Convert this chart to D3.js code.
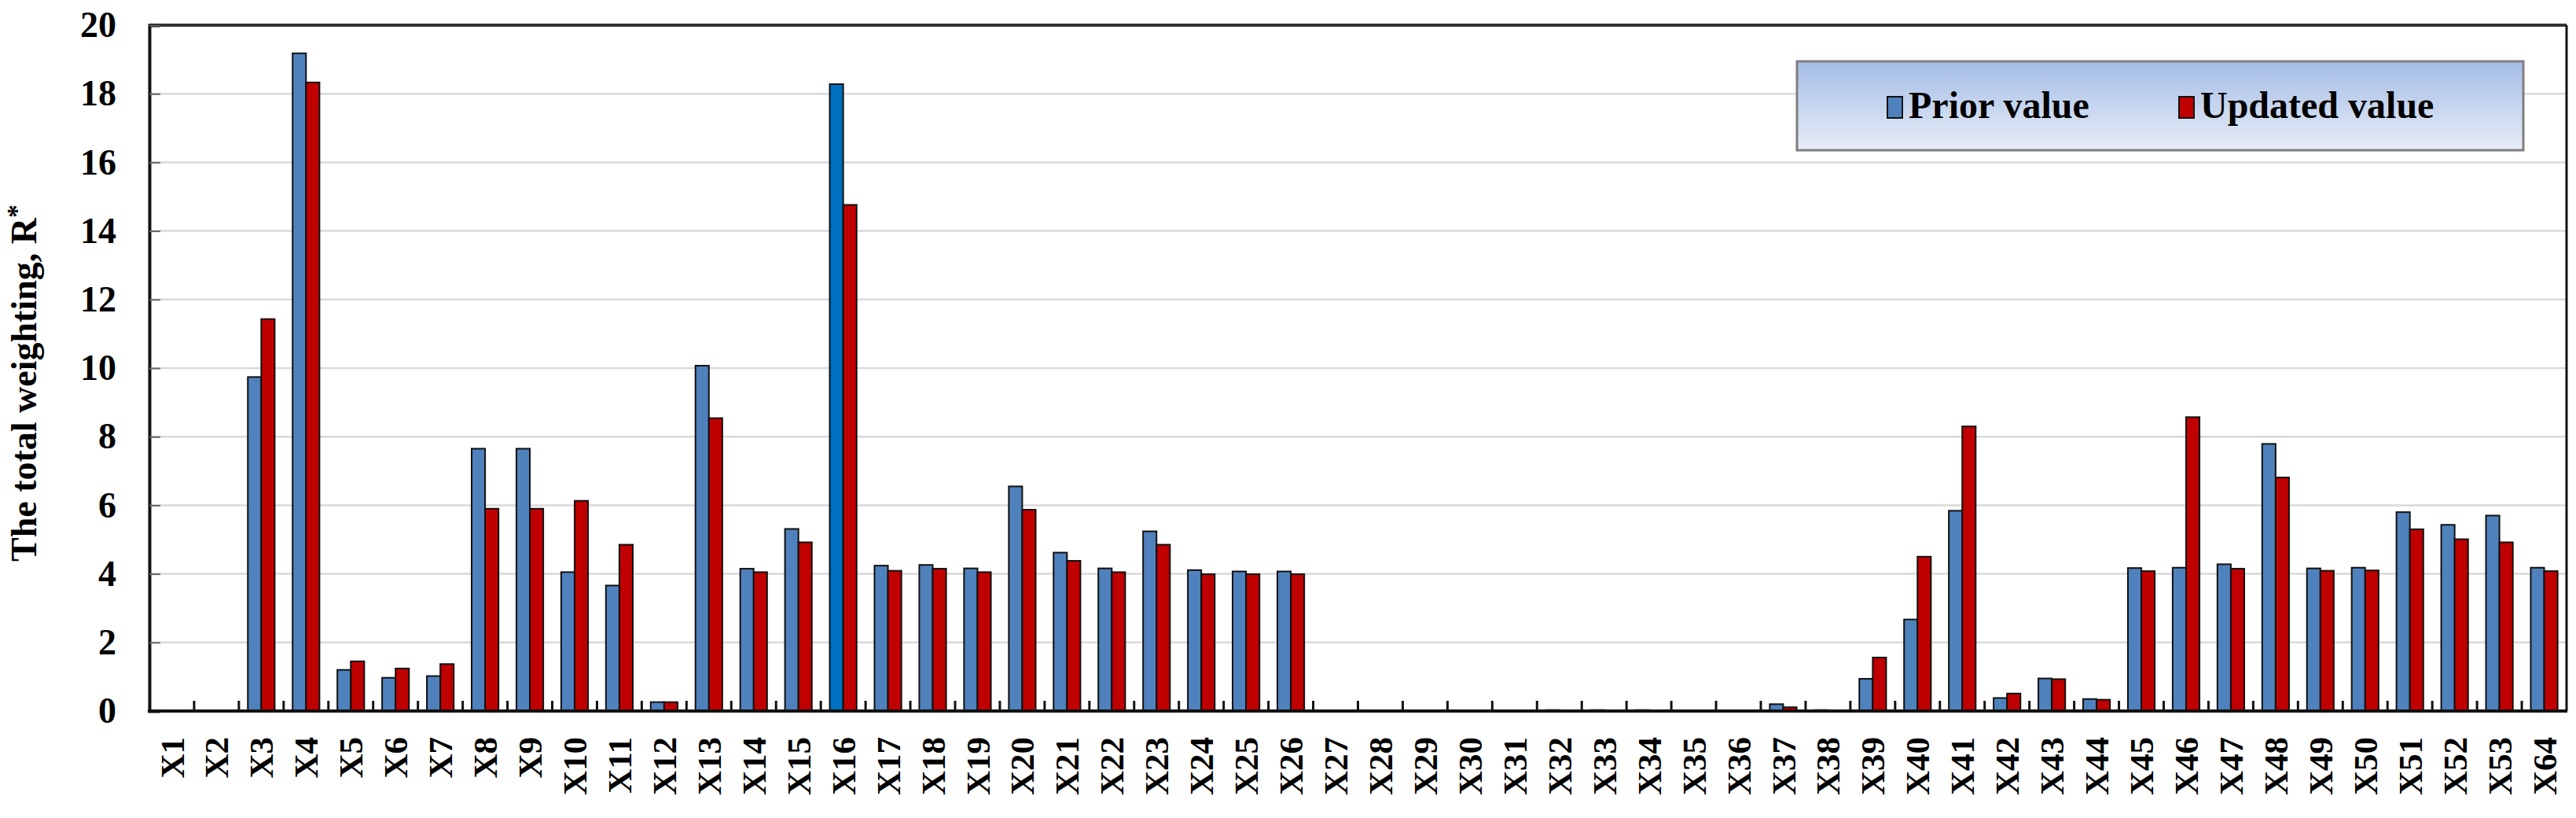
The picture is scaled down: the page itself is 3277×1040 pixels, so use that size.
<!DOCTYPE html>
<html>
<head>
<meta charset="utf-8">
<script src="https://cdn.jsdelivr.net/npm/d3@7"></script>
<style>
  body { margin: 0; background: #fff; }
  text { font-family: "Liberation Serif", "Times New Roman", serif; font-weight: bold; fill: #000; }
</style>
</head>
<body>
<div class="chart"></div>
<script>
const categories = ['X1','X2','X3','X4','X5','X6','X7','X8','X9','X10',
  'X11','X12','X13','X14','X15','X16','X17','X18','X19','X20',
  'X21','X22','X23','X24','X25','X26','X27','X28','X29','X30',
  'X31','X32','X33','X34','X35','X36','X37','X38','X39','X40',
  'X41','X42','X43','X44','X45','X46','X47','X48','X49','X50',
  'X51','X52','X53','X64'];

const priorValue = [0.02, 0.02, 9.74, 19.18, 1.2, 0.97, 1.02, 7.65, 7.65, 4.05,
  3.66, 0.26, 10.07, 4.15, 5.31, 18.28, 4.24, 4.26, 4.16, 6.55,
  4.62, 4.16, 5.24, 4.11, 4.07, 4.07, 0, 0, 0, 0,
  0, 0.03, 0.03, 0.03, 0, 0, 0.2, 0.03, 0.94, 2.67,
  5.84, 0.38, 0.95, 0.35, 4.17, 4.18, 4.28, 7.79, 4.16, 4.18,
  5.8, 5.43, 5.7, 4.18];

const updatedValue = [0.02, 0.02, 11.43, 18.33, 1.45, 1.24, 1.37, 5.9, 5.9, 6.13,
  4.85, 0.26, 8.54, 4.05, 4.92, 14.76, 4.09, 4.15, 4.05, 5.87,
  4.38, 4.05, 4.85, 3.99, 3.99, 3.99, 0, 0, 0, 0,
  0, 0.02, 0.02, 0.02, 0, 0, 0.11, 0.02, 1.56, 4.5,
  8.3, 0.51, 0.93, 0.33, 4.08, 8.57, 4.15, 6.81, 4.09, 4.1,
  5.3, 5.01, 4.92, 4.08];

const yTicks = [0, 2, 4, 6, 8, 10, 12, 14, 16, 18, 20];
const seriesNames = ['Prior value', 'Updated value'];
const seriesColors = ['#4f81bd', '#c00000'];
// X16 prior bar is drawn in a different blue in the original
const highlight = { cat: 'X16', color: '#0070c0' };

const W = 3277, H = 1040;
const margin = { top: 32, right: 12, bottom: 136, left: 190 },
  width = W - margin.left - margin.right,
  height = H - margin.top - margin.bottom;

const svg = d3.select('.chart').append('svg')
  .attr('width', W).attr('height', H);

const x = d3.scaleBand().domain(categories).range([0, width]).padding(0);
const x1 = d3.scaleBand().domain([0, 1])
  .range([x.bandwidth() * 0.2, x.bandwidth() * 0.8]).padding(0);
const y = d3.scaleLinear().domain([0, 20]).range([height, 0]);

const g = svg.append('g')
  .attr('transform', 'translate(' + margin.left + ',' + margin.top + ')');

// grid
g.append('g').selectAll('line')
  .data(yTicks.filter(d => d > 0 && d < 20))
  .enter().append('line')
  .attr('x1', 0).attr('x2', width)
  .attr('y1', d => y(d)).attr('y2', d => y(d))
  .attr('stroke', '#d9d9d9').attr('stroke-width', 2.5);

// bars
const rows = categories.map((c, i) => ({ cat: c, vals: [priorValue[i], updatedValue[i]] }));
const groups = g.append('g').selectAll('g')
  .data(rows)
  .enter().append('g')
  .attr('transform', d => 'translate(' + x(d.cat) + ',0)');

groups.selectAll('rect')
  .data(d => d.vals.map((v, k) => ({ cat: d.cat, k: k, v: v })).filter(e => e.v > 0))
  .enter().append('rect')
  .attr('x', d => x1(d.k))
  .attr('width', x1.bandwidth())
  .attr('y', d => y(d.v))
  .attr('height', d => y(0) - y(d.v))
  .attr('fill', d => (d.k === 0 && d.cat === highlight.cat) ? highlight.color : seriesColors[d.k])
  .attr('stroke', '#111')
  .attr('stroke-width', 2);

// frame (top and right)
g.append('line').attr('x1', 0).attr('x2', width).attr('y1', 0).attr('y2', 0)
  .attr('stroke', '#333').attr('stroke-width', 4);
g.append('line').attr('x1', width).attr('x2', width).attr('y1', 0).attr('y2', height)
  .attr('stroke', '#111').attr('stroke-width', 3);

// y axis
const yAxis = g.append('g')
  .call(d3.axisLeft(y).tickValues(yTicks).tickSize(-14).tickPadding(42));
yAxis.select('.domain').attr('stroke', '#111').attr('stroke-width', 4);
yAxis.selectAll('.tick line').attr('stroke', '#666').attr('stroke-width', 2);
yAxis.selectAll('.tick text')
  .style('font-size', '46px').style('font-family', '"Liberation Serif", serif')
  .style('font-weight', 'bold').attr('fill', '#000');

// x axis labels
const xAxis = g.append('g')
  .attr('transform', 'translate(0,' + height + ')')
  .call(d3.axisBottom(x).tickSize(0).tickPadding(0));
xAxis.select('.domain').remove();
xAxis.selectAll('.tick text')
  .style('font-size', '43px').style('font-family', '"Liberation Serif", serif')
  .style('font-weight', 'bold').attr('fill', '#000')
  .attr('transform', 'rotate(-90)')
  .attr('text-anchor', 'end')
  .attr('x', -33).attr('y', 0).attr('dy', '0.35em');

// x tick marks at category boundaries
g.append('g').selectAll('line')
  .data(categories.slice(1))
  .enter().append('line')
  .attr('x1', d => x(d)).attr('x2', d => x(d))
  .attr('y1', height).attr('y2', height - 13)
  .attr('stroke', '#111').attr('stroke-width', 3);

g.append('line').attr('x1', -2).attr('x2', width + 1).attr('y1', height).attr('y2', height)
  .attr('stroke', '#111').attr('stroke-width', 4);

// y title
svg.append('text')
  .attr('transform', 'translate(46,487) rotate(-90)')
  .attr('text-anchor', 'middle')
  .style('font-size', '46px')
  .text('The total weighting, R')
  .append('tspan').attr('dy', '-0.4em').style('font-size', '34px').text('*');

// legend
const defs = svg.append('defs');
const grad = defs.append('linearGradient').attr('id', 'lg')
  .attr('x1', 0).attr('y1', 0).attr('x2', 0).attr('y2', 1);
grad.append('stop').attr('offset', '0%').attr('stop-color', '#a4bde6');
grad.append('stop').attr('offset', '100%').attr('stop-color', '#e8edf7');

const legend = svg.append('g').attr('transform', 'translate(2286,78)');
legend.append('rect')
  .attr('width', 924).attr('height', 113)
  .attr('fill', 'url(#lg)').attr('stroke', '#7f7f7f').attr('stroke-width', 3);

const legendX = [115, 486];
seriesNames.forEach((name, i) => {
  legend.append('rect')
    .attr('x', legendX[i]).attr('y', 45).attr('width', 19).attr('height', 27)
    .attr('fill', seriesColors[i]).attr('stroke', '#111').attr('stroke-width', 2);
  legend.append('text')
    .attr('x', legendX[i] + 27).attr('y', 72)
    .style('font-size', '48px')
    .text(name);
});
</script>
</body>
</html>
